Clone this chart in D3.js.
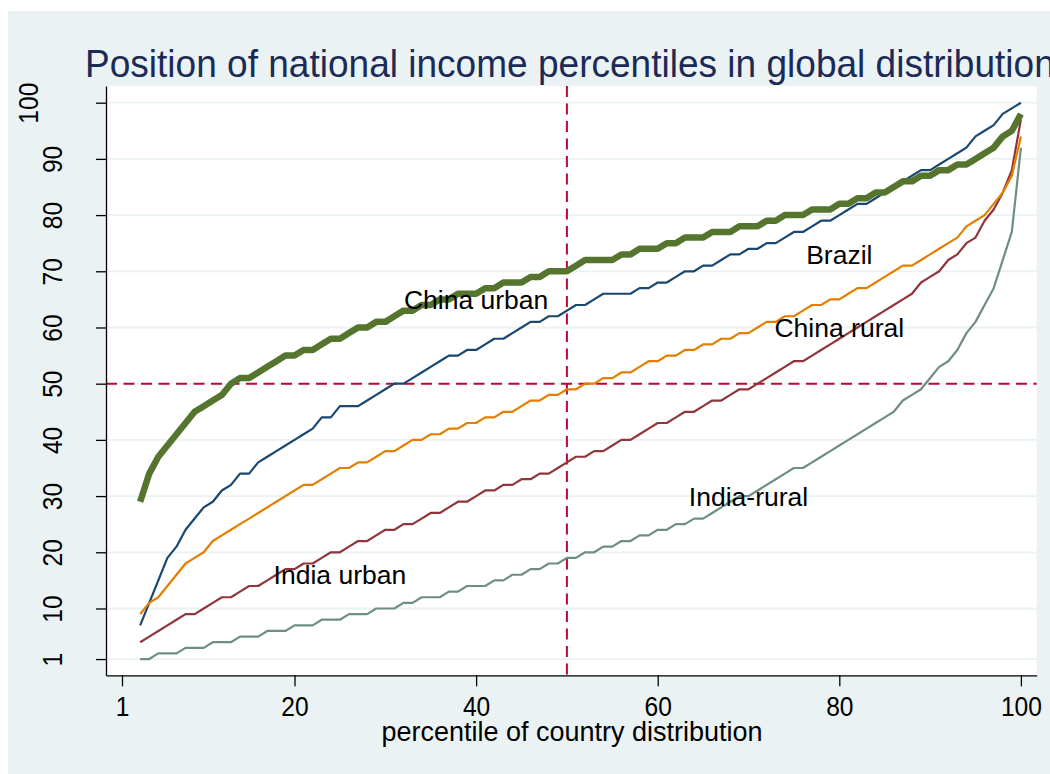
<!DOCTYPE html>
<html>
<head>
<meta charset="utf-8">
<script src="https://cdn.jsdelivr.net/npm/d3@7"></script>
<style>
  html, body { margin: 0; padding: 0; background: #ffffff; }
  svg { display: block; font-family: "Liberation Sans", Arial, Helvetica, sans-serif; }
</style>
</head>
<body>
<svg id="chart" width="1050" height="774"></svg>
<script>
// Percentile of the country distribution (x) and position in the global distribution (y)
const percentiles = [
  3, 4, 5, 6, 7, 8, 9, 10, 11, 12,
  13, 14, 15, 16, 17, 18, 19, 20, 21, 22,
  23, 24, 25, 26, 27, 28, 29, 30, 31, 32,
  33, 34, 35, 36, 37, 38, 39, 40, 41, 42,
  43, 44, 45, 46, 47, 48, 49, 50, 51, 52,
  53, 54, 55, 56, 57, 58, 59, 60, 61, 62,
  63, 64, 65, 66, 67, 68, 69, 70, 71, 72,
  73, 74, 75, 76, 77, 78, 79, 80, 81, 82,
  83, 84, 85, 86, 87, 88, 89, 90, 91, 92,
  93, 94, 95, 96, 97, 98, 99, 100
];

const brazil = [
  7, 11, 15, 19, 21, 24, 26, 28, 29, 31,
  32, 34, 34, 36, 37, 38, 39, 40, 41, 42,
  44, 44, 46, 46, 46, 47, 48, 49, 50, 50,
  51, 52, 53, 54, 55, 55, 56, 56, 57, 58,
  58, 59, 60, 61, 61, 62, 62, 63, 64, 64,
  65, 66, 66, 66, 66, 67, 67, 68, 68, 69,
  70, 70, 71, 71, 72, 73, 73, 74, 74, 75,
  75, 76, 77, 77, 78, 79, 79, 80, 81, 82,
  82, 83, 84, 85, 86, 87, 88, 88, 89, 90,
  91, 92, 94, 95, 96, 98, 99, 100
];

const indiaUrban = [
  4, 5, 6, 7, 8, 9, 9, 10, 11, 12,
  12, 13, 14, 14, 15, 16, 17, 17, 18, 18,
  19, 20, 20, 21, 22, 22, 23, 24, 24, 25,
  25, 26, 27, 27, 28, 29, 29, 30, 31, 31,
  32, 32, 33, 33, 34, 34, 35, 36, 37, 37,
  38, 38, 39, 40, 40, 41, 42, 43, 43, 44,
  45, 45, 46, 47, 47, 48, 49, 49, 50, 51,
  52, 53, 54, 54, 55, 56, 57, 58, 59, 60,
  61, 62, 63, 64, 65, 66, 68, 69, 70, 72,
  73, 75, 76, 79, 81, 84, 88, 97
];

const chinaUrban = [
  29, 34, 37, 39, 41, 43, 45, 46, 47, 48,
  50, 51, 51, 52, 53, 54, 55, 55, 56, 56,
  57, 58, 58, 59, 60, 60, 61, 61, 62, 63,
  63, 64, 64, 65, 65, 66, 66, 66, 67, 67,
  68, 68, 68, 69, 69, 70, 70, 70, 71, 72,
  72, 72, 72, 73, 73, 74, 74, 74, 75, 75,
  76, 76, 76, 77, 77, 77, 78, 78, 78, 79,
  79, 80, 80, 80, 81, 81, 81, 82, 82, 83,
  83, 84, 84, 85, 86, 86, 87, 87, 88, 88,
  89, 89, 90, 91, 92, 94, 95, 98
];

const chinaRural = [
  9, 11, 12, 14, 16, 18, 19, 20, 22, 23,
  24, 25, 26, 27, 28, 29, 30, 31, 32, 32,
  33, 34, 35, 35, 36, 36, 37, 38, 38, 39,
  40, 40, 41, 41, 42, 42, 43, 43, 44, 44,
  45, 45, 46, 47, 47, 48, 48, 49, 49, 50,
  50, 51, 51, 52, 52, 53, 54, 54, 55, 55,
  56, 56, 57, 57, 58, 58, 59, 59, 60, 61,
  61, 62, 62, 63, 64, 64, 65, 65, 66, 67,
  67, 68, 69, 70, 71, 71, 72, 73, 74, 75,
  76, 78, 79, 80, 82, 84, 87, 94
];

const indiaRural = [
  1, 1, 2, 2, 2, 3, 3, 3, 4, 4,
  4, 5, 5, 5, 6, 6, 6, 7, 7, 7,
  8, 8, 8, 9, 9, 9, 10, 10, 10, 11,
  11, 12, 12, 12, 13, 13, 14, 14, 14, 15,
  15, 16, 16, 17, 17, 18, 18, 19, 19, 20,
  20, 21, 21, 22, 22, 23, 23, 24, 24, 25,
  25, 26, 26, 27, 28, 29, 30, 30, 31, 32,
  33, 34, 35, 35, 36, 37, 38, 39, 40, 41,
  42, 43, 44, 45, 47, 48, 49, 51, 53, 54,
  56, 59, 61, 64, 67, 72, 77, 92
];

// Series in drawing order (later ones sit on top)
const seriesNames  = ["Brazil", "India urban", "China urban", "China rural", "India rural"];
const seriesValues = [brazil, indiaUrban, chinaUrban, chinaRural, indiaRural];
const seriesColors = ["#1a476f", "#90353b", "#55752f", "#e37e00", "#6e8e84"];
const seriesWidths = [2.2, 2.2, 6.5, 2.2, 2.2];

// In-plot labels: text, x (percentile), y (global position)
const labelTexts = ["China urban", "Brazil", "China rural", "India urban", "India-rural"];
const labelX     = [40, 80, 80, 25, 70];
const labelY     = [65, 73, 60, 16, 30];

const xTicks = [1, 20, 40, 60, 80, 100];
const yTicks = [1, 10, 20, 30, 40, 50, 60, 70, 80, 90, 100];
const refX = 50;
const refY = 50;

const titleText = "Position of national income percentiles in global distribution";
const xTitleText = "percentile of country distribution";

// ---------------------------------------------------------------------------
const svg = d3.select("#chart");
const W = 1050, H = 774;
const plot = { left: 106, right: 1036.7, top: 86, bottom: 675.3 };

const bgColor = "#eaf2f3";
const refColor = "#c10534";

const x = d3.scaleLinear().domain([-0.762, 101.74]).range([plot.left, plot.right]);
const y = d3.scaleLinear().domain([-1.89, 102.97]).range([plot.bottom, plot.top]);

// Graph region background
svg.append("rect")
  .attr("x", 8).attr("y", 11)
  .attr("width", W - 8).attr("height", H - 11)
  .attr("fill", bgColor);

// Plot region
svg.append("rect")
  .attr("x", plot.left).attr("y", plot.top)
  .attr("width", plot.right - plot.left).attr("height", plot.bottom - plot.top)
  .attr("fill", "#ffffff");

// Horizontal grid lines
svg.append("g")
  .selectAll("line")
  .data(yTicks)
  .join("line")
  .attr("x1", plot.left).attr("x2", plot.right)
  .attr("y1", d => y(d)).attr("y2", d => y(d))
  .attr("stroke", bgColor)
  .attr("stroke-width", 1.8);

// Reference lines at the median
svg.append("line")
  .attr("x1", plot.left).attr("x2", plot.right)
  .attr("y1", y(refY)).attr("y2", y(refY))
  .attr("stroke", refColor).attr("stroke-width", 2)
  .attr("stroke-dasharray", "11,6.5");
svg.append("line")
  .attr("x1", x(refX)).attr("x2", x(refX))
  .attr("y1", plot.top).attr("y2", plot.bottom)
  .attr("stroke", refColor).attr("stroke-width", 2)
  .attr("stroke-dasharray", "11,6.5");

// Series lines
const line = d3.line()
  .x((d, i) => x(percentiles[i]))
  .y(d => y(d));

svg.append("g")
  .selectAll("path")
  .data(seriesValues)
  .join("path")
  .attr("d", d => line(d))
  .attr("fill", "none")
  .attr("stroke", (d, i) => seriesColors[i])
  .attr("stroke-width", (d, i) => seriesWidths[i])
  .attr("stroke-linejoin", "round")
  .attr("stroke-linecap", "butt")
  .attr("data-series", (d, i) => seriesNames[i]);

// Line labels
svg.append("g")
  .selectAll("text")
  .data(labelTexts)
  .join("text")
  .attr("x", (d, i) => x(labelX[i]))
  .attr("y", (d, i) => y(labelY[i]) + 9.5)
  .attr("text-anchor", "middle")
  .attr("font-size", 26.5)
  .attr("fill", "#000")
  .text(d => d);

// X axis
const xAxis = svg.append("g")
  .attr("transform", `translate(0,${plot.bottom})`)
  .call(d3.axisBottom(x).tickValues(xTicks).tickSize(11).tickSizeOuter(0).tickFormat(d3.format("d")));
xAxis.select(".domain").attr("stroke", "#000").attr("stroke-width", 1.3);
xAxis.selectAll(".tick line").attr("stroke", "#000").attr("stroke-width", 1.3);
xAxis.selectAll(".tick text")
  .attr("y", 40.7).attr("dy", 0)
  .attr("font-size", 27)
  .attr("font-family", "Liberation Sans, Arial, sans-serif")
  .attr("fill", "#000")
  .attr("transform", "scale(0.91,1)");

// Y axis with vertical labels
const yAxis = svg.append("g")
  .attr("transform", `translate(${plot.left},0)`)
  .call(d3.axisLeft(y).tickValues(yTicks).tickSize(10).tickSizeOuter(0).tickFormat(d3.format("d")));
yAxis.select(".domain").attr("stroke", "#000").attr("stroke-width", 1.3);
yAxis.selectAll(".tick line").attr("stroke", "#000").attr("stroke-width", 1.3);
yAxis.selectAll(".tick text")
  .attr("x", 0).attr("y", 0).attr("dy", 0)
  .attr("text-anchor", "middle")
  .attr("font-size", 27)
  .attr("font-family", "Liberation Sans, Arial, sans-serif")
  .attr("fill", "#000")
  .attr("transform", d => `translate(${d === 100 ? -67.7 : -44},0) rotate(-90) scale(0.91,1)`);

// Axis title
svg.append("text")
  .attr("x", 572).attr("y", 741)
  .attr("text-anchor", "middle")
  .attr("font-size", 27)
  .attr("fill", "#000")
  .text(xTitleText);

// Title (runs past the right edge of the graph)
svg.append("text")
  .attr("x", 0).attr("y", 0)
  .attr("transform", "translate(85,77) scale(0.975,1)")
  .attr("font-size", 38)
  .attr("fill", "#1c2b56")
  .text(titleText);
</script>
</body>
</html>
